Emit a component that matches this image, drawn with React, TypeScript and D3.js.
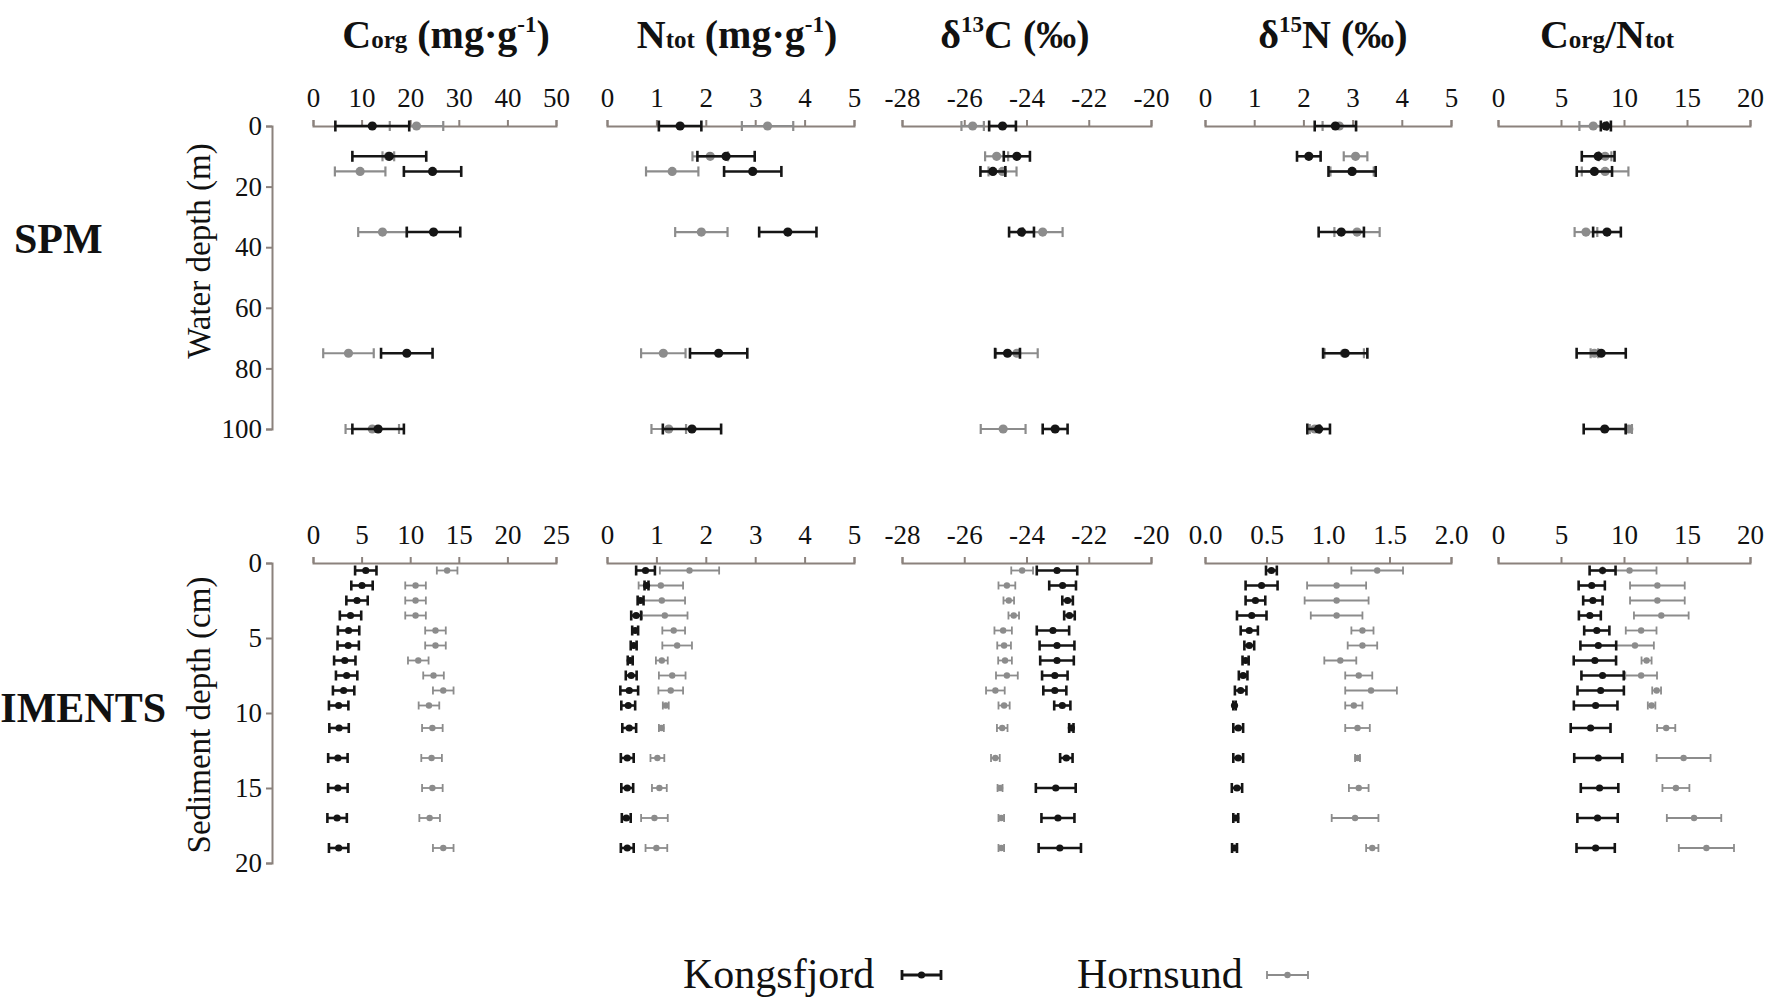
import React, { useEffect, useRef } from 'react';
import * as d3 from 'd3';

// depths
const spmDepth = [0, 10, 15, 35, 75, 100];
const sedDepth = [0.5, 1.5, 2.5, 3.5, 4.5, 5.5, 6.5, 7.5, 8.5, 9.5, 11, 13, 15, 17, 19];

// tick labels
const spmDepthTicks = [0, 20, 40, 60, 80, 100];
const sedDepthTicks = [0, 5, 10, 15, 20];
const corgTopTicks = [0, 10, 20, 30, 40, 50];
const corgBotTicks = [0, 5, 10, 15, 20, 25];
const ntotTicks = [0, 1, 2, 3, 4, 5];
const d13cTicks = [-28, -26, -24, -22, -20];
const d15nTopTicks = [0, 1, 2, 3, 4, 5];
const d15nBotTicks = [0, 0.5, 1, 1.5, 2];
const cnTicks = [0, 5, 10, 15, 20];

// SPM - Kongsfjord (K), Hornsund (H): mean and error
const spmCorgK = [12.2, 15.7, 24.6, 24.8, 19.3, 13.4];
const spmCorgKErr = [7.6, 7.6, 5.9, 5.5, 5.3, 5.3];
const spmCorgH = [21.3, 15.5, 9.7, 14.3, 7.3, 12.2];
const spmCorgHErr = [5.5, 1.2, 5.2, 5.0, 5.2, 5.5];

const spmNtotK = [1.48, 2.41, 2.95, 3.66, 2.26, 1.72];
const spmNtotKErr = [0.43, 0.58, 0.58, 0.58, 0.58, 0.59];
const spmNtotH = [3.25, 2.09, 1.32, 1.91, 1.14, 1.25];
const spmNtotHErr = [0.52, 0.36, 0.53, 0.53, 0.45, 0.35];

const spmD13cK = [-24.77, -24.31, -25.08, -24.16, -24.61, -23.08];
const spmD13cKErr = [0.43, 0.42, 0.4, 0.4, 0.4, 0.4];
const spmD13cH = [-25.73, -24.96, -24.77, -23.48, -24.31, -24.75];
const spmD13cHErr = [0.36, 0.37, 0.45, 0.64, 0.67, 0.72];

const spmD15nK = [2.65, 2.11, 2.99, 2.77, 2.85, 2.31];
const spmD15nKErr = [0.42, 0.24, 0.48, 0.46, 0.45, 0.23];
const spmD15nH = [2.73, 3.06, 2.99, 3.09, 2.83, 2.23];
const spmD15nHErr = [0.34, 0.24, 0.44, 0.46, 0.4, 0.1];

const spmCnK = [8.56, 7.95, 7.65, 8.65, 8.19, 8.47];
const spmCnKErr = [0.4, 1.3, 1.4, 1.1, 1.95, 1.67];
const spmCnH = [7.56, 8.5, 8.5, 6.98, 7.65, 10.38];
const spmCnHErr = [1.1, 0.5, 1.85, 0.9, 0.3, 0.25];

// Sediments
const sedCorgK = [5.43, 5.04, 4.53, 3.86, 3.66, 3.62, 3.27, 3.46, 3.15, 2.64, 2.68, 2.56, 2.56, 2.48, 2.64];
const sedCorgKErr = [1.1, 1.1, 1.1, 1.1, 1.1, 1.1, 1.1, 1.1, 1.1, 1.0, 1.0, 1.0, 1.0, 1.0, 1.0];
const sedCorgH = [13.8, 10.55, 10.55, 10.55, 12.6, 12.6, 10.83, 12.4, 13.4, 11.93, 12.28, 12.2, 12.28, 12.0, 13.4];
const sedCorgHErr = [1.06, 1.06, 1.06, 1.06, 1.06, 1.06, 1.06, 1.06, 1.06, 1.06, 1.06, 1.06, 1.06, 1.06, 1.06];

const sedNtotK = [0.78, 0.8, 0.68, 0.59, 0.57, 0.54, 0.47, 0.49, 0.45, 0.43, 0.45, 0.41, 0.41, 0.39, 0.41];
const sedNtotKErr = [0.19, 0.04, 0.06, 0.1, 0.06, 0.06, 0.05, 0.11, 0.18, 0.14, 0.14, 0.13, 0.12, 0.09, 0.13];
const sedNtotH = [1.67, 1.09, 1.11, 1.17, 1.35, 1.42, 1.11, 1.32, 1.29, 1.19, 1.1, 1.02, 1.06, 0.96, 1.0];
const sedNtotHErr = [0.6, 0.45, 0.47, 0.46, 0.23, 0.3, 0.12, 0.27, 0.25, 0.06, 0.05, 0.14, 0.15, 0.27, 0.22];

const sedD13cK = [-23.02, -22.84, -22.68, -22.62, -23.15, -23.02, -23.02, -23.09, -23.09, -22.85, -22.56, -22.72, -23.06, -22.99, -22.93];
const sedD13cKErr = [0.65, 0.43, 0.17, 0.17, 0.52, 0.56, 0.54, 0.41, 0.37, 0.26, 0.07, 0.2, 0.64, 0.53, 0.68];
const sedD13cH = [-24.14, -24.63, -24.57, -24.41, -24.75, -24.72, -24.69, -24.63, -25.0, -24.72, -24.78, -25.0, -24.85, -24.81, -24.81];
const sedD13cHErr = [0.35, 0.27, 0.17, 0.17, 0.28, 0.22, 0.22, 0.35, 0.3, 0.18, 0.17, 0.14, 0.08, 0.09, 0.09];

const sedD15nK = [0.54, 0.46, 0.41, 0.38, 0.36, 0.36, 0.33, 0.31, 0.29, 0.24, 0.27, 0.27, 0.26, 0.25, 0.24];
const sedD15nKErr = [0.044, 0.13, 0.08, 0.12, 0.07, 0.04, 0.025, 0.035, 0.047, 0.01, 0.04, 0.04, 0.042, 0.02, 0.02];
const sedD15nH = [1.4, 1.07, 1.07, 1.07, 1.28, 1.28, 1.1, 1.25, 1.35, 1.21, 1.24, 1.24, 1.25, 1.22, 1.36];
const sedD15nHErr = [0.21, 0.24, 0.26, 0.21, 0.09, 0.12, 0.13, 0.11, 0.21, 0.07, 0.1, 0.02, 0.08, 0.19, 0.05];

const sedCnK = [8.3, 7.44, 7.53, 7.29, 7.84, 7.96, 7.69, 8.3, 8.15, 7.75, 7.35, 7.96, 8.06, 7.9, 7.75];
const sedCnKErr = [1.03, 1.04, 0.77, 0.87, 1.0, 1.42, 1.68, 1.68, 1.84, 1.73, 1.58, 1.91, 1.49, 1.6, 1.52];
const sedCnH = [10.44, 12.65, 12.65, 12.96, 11.36, 10.87, 11.79, 11.36, 12.59, 12.19, 13.35, 14.73, 14.12, 15.56, 16.54];
const sedCnHErr = [2.14, 2.17, 2.17, 2.17, 1.22, 1.5, 0.4, 1.26, 0.35, 0.3, 0.72, 2.14, 1.07, 2.16, 2.19];

const FONT = '"Liberation Serif", "Times New Roman", serif';
const AXIS = '#8b827d';
const BLACK = '#151515';
const GREY = '#8c8c8c';

// plain hyphen minus like the original, not the unicode minus
const fmtInt = (d: any) => String(d);
const fmtOne = (d: any) => (+d).toFixed(1);

const panels = [
  { x0: 313, x1: 556, top: [0, 50], topTicks: corgTopTicks, bot: [0, 25], botTicks: corgBotTicks, fmtBot: fmtInt,
    spm: [spmCorgK, spmCorgKErr, spmCorgH, spmCorgHErr], sed: [sedCorgK, sedCorgKErr, sedCorgH, sedCorgHErr] },
  { x0: 607, x1: 854, top: [0, 5], topTicks: ntotTicks, bot: [0, 5], botTicks: ntotTicks, fmtBot: fmtInt,
    spm: [spmNtotK, spmNtotKErr, spmNtotH, spmNtotHErr], sed: [sedNtotK, sedNtotKErr, sedNtotH, sedNtotHErr] },
  { x0: 902, x1: 1151, top: [-28, -20], topTicks: d13cTicks, bot: [-28, -20], botTicks: d13cTicks, fmtBot: fmtInt,
    spm: [spmD13cK, spmD13cKErr, spmD13cH, spmD13cHErr], sed: [sedD13cK, sedD13cKErr, sedD13cH, sedD13cHErr] },
  { x0: 1205, x1: 1451, top: [0, 5], topTicks: d15nTopTicks, bot: [0, 2], botTicks: d15nBotTicks, fmtBot: fmtOne,
    spm: [spmD15nK, spmD15nKErr, spmD15nH, spmD15nHErr], sed: [sedD15nK, sedD15nKErr, sedD15nH, sedD15nHErr] },
  { x0: 1498, x1: 1750, top: [0, 20], topTicks: cnTicks, bot: [0, 20], botTicks: cnTicks, fmtBot: fmtInt,
    spm: [spmCnK, spmCnKErr, spmCnH, spmCnHErr], sed: [sedCnK, sedCnKErr, sedCnH, sedCnHErr] },
];

function styleAxis(g: any) {
  g.attr('font-family', null).attr('font-size', null);
  g.select('.domain').attr('stroke', AXIS).attr('stroke-width', 2);
  g.selectAll('.tick line').attr('stroke', AXIS).attr('stroke-width', 2);
  g.selectAll('.tick text').attr('fill', '#111').style('font-family', FONT).style('font-size', '27px');
}

function errorBars(g: any, depth: number[], mean: number[], err: number[], x: any, y: any, st: any) {
  const rows = depth.map((d, i) => ({ d, m: mean[i], e: err[i] }));
  const grp = g.append('g');
  grp.selectAll('line.bar').data(rows).join('line')
    .attr('x1', (r: any) => x(r.m - r.e)).attr('x2', (r: any) => x(r.m + r.e))
    .attr('y1', (r: any) => y(r.d)).attr('y2', (r: any) => y(r.d))
    .attr('stroke', st.color).attr('stroke-width', st.w);
  [-1, 1].forEach(s => {
    grp.selectAll(null).data(rows).join('line')
      .attr('x1', (r: any) => x(r.m + s * r.e)).attr('x2', (r: any) => x(r.m + s * r.e))
      .attr('y1', (r: any) => y(r.d) - st.cap / 2).attr('y2', (r: any) => y(r.d) + st.cap / 2)
      .attr('stroke', st.color).attr('stroke-width', st.w);
  });
  grp.selectAll('circle').data(rows).join('circle')
    .attr('cx', (r: any) => x(r.m)).attr('cy', (r: any) => y(r.d)).attr('r', st.r)
    .attr('fill', st.color);
}

export default function App() {
  const ref = useRef<SVGGElement>(null);

  useEffect(() => {
    const root = d3.select(ref.current);
    root.selectAll('*').remove();

    const ySpm = d3.scaleLinear().domain([0, 100]).range([126, 429]);
    const ySed = d3.scaleLinear().domain([0, 20]).range([563, 863]);

    // depth axes
    root.append('g').attr('transform', 'translate(272,0)')
      .call(d3.axisLeft(ySpm).tickValues(spmDepthTicks).tickSize(6).tickPadding(4).tickFormat(fmtInt))
      .call(styleAxis);
    root.append('g').attr('transform', 'translate(272,0)')
      .call(d3.axisLeft(ySed).tickValues(sedDepthTicks).tickSize(6).tickPadding(4).tickFormat(fmtInt))
      .call(styleAxis);

    const kSpm = { color: BLACK, w: 2.6, cap: 11, r: 4.6 };
    const hSpm = { color: GREY, w: 2.2, cap: 10, r: 4.6 };
    const kSed = { color: BLACK, w: 2.6, cap: 10, r: 3.6 };
    const hSed = { color: GREY, w: 1.8, cap: 8, r: 3.2 };

    panels.forEach(p => {
      const xTop = d3.scaleLinear().domain(p.top).range([p.x0, p.x1]);
      const xBot = d3.scaleLinear().domain(p.bot).range([p.x0, p.x1]);
      root.append('g').attr('transform', `translate(0,${ySpm(0)})`)
        .call(d3.axisTop(xTop).tickValues(p.topTicks).tickSize(6).tickPadding(13).tickFormat(fmtInt))
        .call(styleAxis);
      root.append('g').attr('transform', `translate(0,${ySed(0)})`)
        .call(d3.axisTop(xBot).tickValues(p.botTicks).tickSize(6).tickPadding(13).tickFormat(p.fmtBot))
        .call(styleAxis);
      errorBars(root, spmDepth, p.spm[2], p.spm[3], xTop, ySpm, hSpm);
      errorBars(root, spmDepth, p.spm[0], p.spm[1], xTop, ySpm, kSpm);
      errorBars(root, sedDepth, p.sed[2], p.sed[3], xBot, ySed, hSed);
      errorBars(root, sedDepth, p.sed[0], p.sed[1], xBot, ySed, kSed);
    });

    // legend symbols
    const legendX = d3.scaleLinear().domain([-1, 1]);
    const ly = () => 975;
    errorBars(root, [0], [0], [1], legendX.copy().range([902, 941]), ly, { ...kSed, w: 2.8 });
    errorBars(root, [0], [0], [1], legendX.copy().range([1267, 1308]), ly, hSed);
  }, []);

  const title = { fontFamily: FONT, fontWeight: 700, fontSize: 40, textAnchor: 'middle' as const, fill: '#111' };
  const sub = 25;
  const sup = 23;

  return (
    <svg width={1774} height={999} style={{ position: 'absolute', left: 0, top: 0, background: '#fff' }}>
      <rect width={1774} height={999} fill="#fff" />
      <text x={446} y={48} {...title}>
        C<tspan fontSize={sub}>org</tspan> (mg·g<tspan fontSize={sup} dy={-16}>-1</tspan><tspan dy={16}>)</tspan>
      </text>
      <text x={737} y={48} {...title}>
        N<tspan fontSize={sub}>tot</tspan> (mg·g<tspan fontSize={sup} dy={-16}>-1</tspan><tspan dy={16}>)</tspan>
      </text>
      <text x={1015} y={48} {...title}>
        δ<tspan fontSize={sup} dy={-16}>13</tspan><tspan dy={16}>C (‰)</tspan>
      </text>
      <text x={1333} y={48} {...title}>
        δ<tspan fontSize={sup} dy={-16}>15</tspan><tspan dy={16}>N (‰)</tspan>
      </text>
      <text x={1607} y={48} {...title}>
        C<tspan fontSize={sub}>org</tspan>/N<tspan fontSize={sub}>tot</tspan>
      </text>

      <text x={14} y={253} fontFamily={FONT} fontWeight={700} fontSize={42} fill="#111">SPM</text>
      <text x={166} y={722} fontFamily={FONT} fontWeight={700} fontSize={42} fill="#111" textAnchor="end">SEDIMENTS</text>

      <text transform="translate(198,251) rotate(-90)" dy="0.35em" fontFamily={FONT} fontSize={33} textAnchor="middle" fill="#111">Water depth (m)</text>
      <text transform="translate(198,715) rotate(-90)" dy="0.35em" fontFamily={FONT} fontSize={33} textAnchor="middle" fill="#111">Sediment depth (cm)</text>

      <text x={683} y={988} fontFamily={FONT} fontSize={42} fill="#111">Kongsfjord</text>
      <text x={1077} y={988} fontFamily={FONT} fontSize={42} fill="#111">Hornsund</text>

      <g ref={ref} />
    </svg>
  );
}
